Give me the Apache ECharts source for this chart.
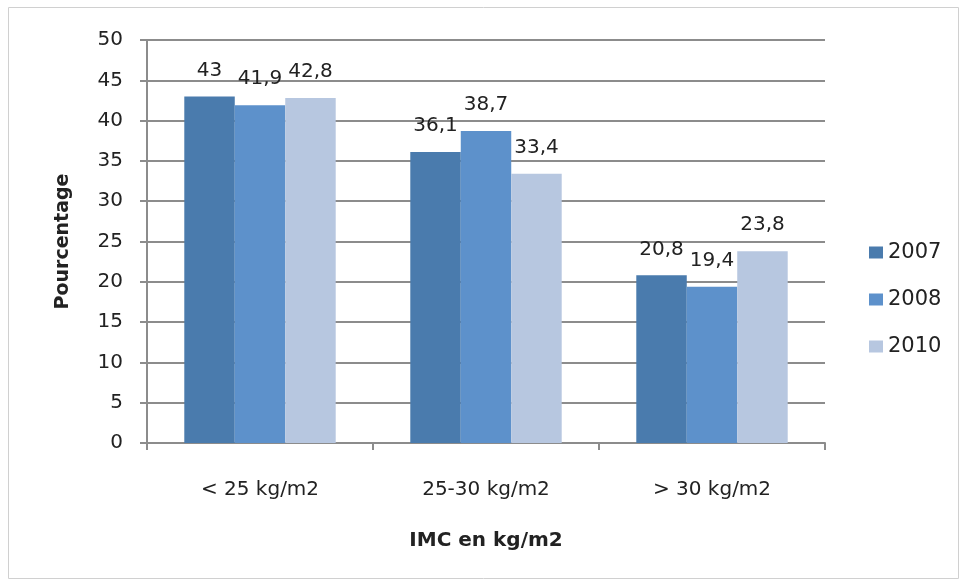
<!DOCTYPE html>
<html><head><meta charset="utf-8">
<script src="https://cdn.jsdelivr.net/npm/echarts@6/dist/echarts.min.js"></script>
<style>html,body{margin:0;padding:0;background:#fff}#c{width:961px;height:581px}</style>
</head><body><div id="c"></div>
<script>
var categories = ['< 25 kg/m2', '25-30 kg/m2', '> 30 kg/m2'];
var seriesNames = ['2007', '2008', '2010'];
var v2007 = [43, 36.1, 20.8];
var v2008 = [41.9, 38.7, 19.4];
var v2010 = [42.8, 33.4, 23.8];
var colors = ['#4A7BAD', '#5D91CB', '#B7C7E0'];
var font = '"DejaVu Sans", sans-serif';
var chart = echarts.init(document.getElementById('c'));
var data = [v2007, v2008, v2010];
chart.setOption({
  animation: false,
  textStyle: {fontFamily: font},
  graphic: [{type: 'rect', shape: {x: 8.5, y: 7.5, width: 950, height: 571}, style: {fill: 'none', stroke: '#d0d0d0', lineWidth: 1}}],
  grid: {left: 147, right: 136, top: 40, bottom: 138},
  legend: {
    orient: 'vertical', left: 864, top: 237, itemGap: 26, itemWidth: 14, itemHeight: 12,
    icon: 'rect', textStyle: {fontSize: 21, color: '#222', fontFamily: font},
    data: seriesNames
  },
  xAxis: {
    type: 'category', data: categories,
    axisLine: {lineStyle: {color: '#8c8c8c', width: 2}},
    axisTick: {show: true, length: 7, lineStyle: {color: '#8c8c8c', width: 2}},
    axisLabel: {margin: 37, fontSize: 20, color: '#222', fontFamily: font},
    name: 'IMC en kg/m2', nameLocation: 'middle', nameGap: 88,
    nameTextStyle: {fontSize: 20, fontWeight: 'bold', color: '#222', fontFamily: font}
  },
  yAxis: {
    type: 'value', min: 0, max: 50, interval: 5,
    axisLine: {show: true, lineStyle: {color: '#8c8c8c', width: 2}},
    axisTick: {show: true, length: 7, lineStyle: {color: '#8c8c8c', width: 2}},
    splitLine: {lineStyle: {color: '#8c8c8c', width: 2}},
    axisLabel: {margin: 24, fontSize: 20, color: '#222', fontFamily: font},
    name: 'Pourcentage', nameLocation: 'middle', nameGap: 74,
    nameTextStyle: {fontSize: 19, fontWeight: 'bold', color: '#222', fontFamily: font}
  },
  series: seriesNames.map(function (n, i) {
    return {
      name: n, type: 'bar', data: data[i], barGap: '0%', barCategoryGap: '33%',
      itemStyle: {color: colors[i]},
      label: {show: true, position: 'top', distance: 16, fontSize: 20, color: '#222', fontFamily: font,
        formatter: function (p) { return String(p.value).replace('.', ','); }}
    };
  })
});
</script></body></html>
